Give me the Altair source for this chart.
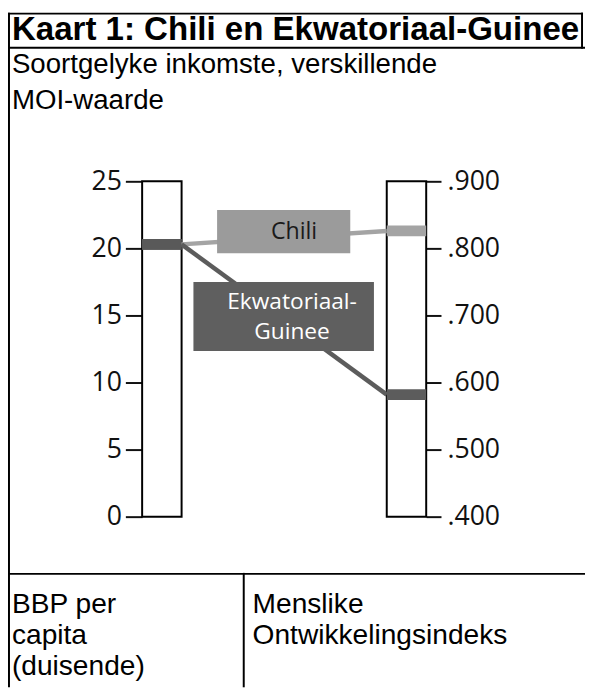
import altair as alt
import pandas as pd

# ---- data ----
countries = ["Chili", "Ekwatoriaal-Guinee"]
bbp_per_capita = [20.3, 20.3]        # BBP per capita (duisende)
moi_values = [0.826, 0.582]          # Menslike Ontwikkelingsindeks
bbp_ticks = [0, 5, 10, 15, 20, 25]
moi_ticks = [0.4, 0.5, 0.6, 0.7, 0.8, 0.9]
bbp_domain = [0, 25]
moi_domain = [0.4, 0.9]
line_colors = ["#a4a4a4", "#5c5c5c"]
box_colors = ["#9b9b9b", "#5f5f5f"]

df = pd.DataFrame({"land": countries, "bbp": bbp_per_capita, "moi": moi_values})
one = pd.DataFrame({"k": [0]})

# ---- layout (pixels, relative to plot area) ----
W, H = 288, 340
BAR = 40
FONT_TXT = "Liberation Sans"
FONT_FIG = "Open Sans"

axis_common = dict(
    grid=False, domain=False, title=None,
    labelFont=FONT_FIG, labelFontSize=27, labelColor="#111111",
    tickColor="#111111", tickWidth=2,
)

gdp_scale = alt.Scale(domain=bbp_domain, nice=False, zero=False)
moi_scale = alt.Scale(domain=moi_domain, nice=False, zero=False)
col_scale = alt.Scale(domain=countries, range=line_colors)


def hline(y, x1, x2, w=2):
    return alt.Chart(one).mark_rule(color="black", strokeWidth=w, strokeCap="square").encode(
        x=alt.value(x1), x2=alt.value(x2), y=alt.value(y))


def vline(x, y1, y2, w=2):
    return alt.Chart(one).mark_rule(color="black", strokeWidth=w, strokeCap="square").encode(
        x=alt.value(x), y=alt.value(y1), y2=alt.value(y2))


def txt(s, x, y, size, weight="normal", font=FONT_TXT, color="black", align="left"):
    return alt.Chart(one).mark_text(
        text=s, fontSize=size, fontWeight=weight, font=font, color=color,
        align=align, baseline="alphabetic").encode(x=alt.value(x), y=alt.value(y))


def box(x1, x2, y1, y2, fill, stroke=None, sw=0):
    kw = dict(fill=fill)
    if stroke:
        kw.update(stroke=stroke, strokeWidth=sw)
    return alt.Chart(one).mark_rect(**kw).encode(
        x=alt.value(x1), x2=alt.value(x2), y=alt.value(y1), y2=alt.value(y2))


# frame
frame = [
    hline(-170, -135, 446),
    vline(-135, -170, 512),
    vline(446, -170, -135.5),
    hline(-135.5, -135, 452),
    hline(398, -135, 452),
    vline(103, 398, 512),
]

texts = [
    txt("Kaart 1: Chili en Ekwatoriaal-Guinee", -132, -143.5, 33.5, weight="bold"),
    txt("Soortgelyke inkomste, verskillende", -132, -110, 28),
    txt("MOI-waarde", -132, -73, 28),
    txt("BBP per", -132, 437.5, 28.5),
    txt("capita", -132, 469.5, 28.5),
    txt("(duisende)", -132, 500.5, 28.5),
    txt("Menslike", 112, 437.5, 28.5),
    txt("Ontwikkelingsindeks", 112, 469.5, 28.5),
]

# bar outlines
bars = [
    box(0, BAR, 0, H, "white", "black", 2),
    box(W - BAR, W, 0, H, "white", "black", 2),
]

# left (BBP) layer: bands + connectors
left_band = alt.Chart(df).mark_rule(strokeWidth=11, strokeCap="butt", color="#595959").encode(
    x=alt.value(0), x2=alt.value(BAR),
    y=alt.Y("bbp:Q", scale=gdp_scale,
            axis=alt.Axis(orient="left", values=bbp_ticks, tickSize=17, labelPadding=4, **axis_common)),
)
connectors = alt.Chart(df).transform_calculate(
    moi_bbp="(datum.moi - 0.4) / 0.5 * 25"
).mark_rule(strokeWidth=4.5, strokeCap="butt").encode(
    x=alt.value(BAR), x2=alt.value(W - BAR),
    y=alt.Y("bbp:Q", scale=gdp_scale),
    y2="moi_bbp:Q",
    color=alt.Color("land:N", scale=col_scale, legend=None),
)
gdp_layer = alt.layer(left_band, connectors)

# right (MOI) layer
right_band = alt.Chart(df).mark_rule(strokeWidth=11, strokeCap="butt").encode(
    x=alt.value(W - BAR), x2=alt.value(W),
    y=alt.Y("moi:Q", scale=moi_scale,
            axis=alt.Axis(orient="right", values=moi_ticks, tickSize=15, labelPadding=6,
                          labelExpr="slice(format(datum.value, '.3f'), 1)", **axis_common)),
    color=alt.Color("land:N", scale=col_scale, legend=None),
)

# label boxes
labels = [
    box(76, 211, 29, 73, box_colors[0]),
    txt("Chili", 154, 58, 23.5, font=FONT_FIG, color="#1a1a1a", align="center"),
    box(52, 235, 102, 172, box_colors[1]),
    txt("Ekwatoriaal-", 152, 129, 23, font=FONT_FIG, color="white", align="center"),
    txt("Guinee", 152, 159.5, 23, font=FONT_FIG, color="white", align="center"),
]

chart = alt.layer(
    *frame, *texts, *bars, gdp_layer, right_band, *labels
).resolve_scale(y="independent").properties(
    width=W, height=H,
    padding={"left": 136, "top": 171, "right": 161, "bottom": 169},
    autosize=alt.AutoSizeParams(type="none"),
    background="white",
).configure_view(stroke=None)

chart.save("out.html", embed_options={"renderer": "svg", "actions": False})
